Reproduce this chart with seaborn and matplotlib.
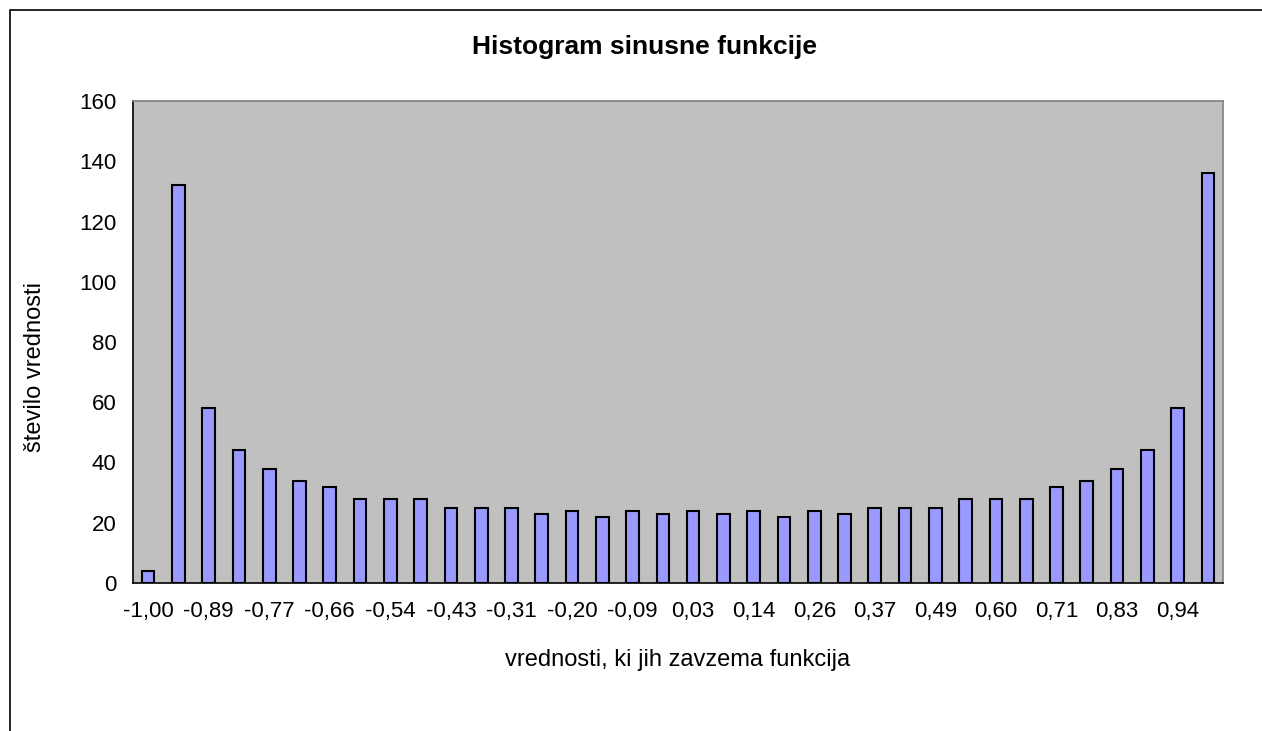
import seaborn as sns
import pandas as pd
import matplotlib.pyplot as plt
from matplotlib.patches import Rectangle

# vrednosti (razredi) in število vrednosti v vsakem razredu
razredi = ['-1,00', '-0,94', '-0,89', '-0,83', '-0,77', '-0,71', '-0,66', '-0,60',
           '-0,54', '-0,49', '-0,43', '-0,37', '-0,31', '-0,26', '-0,20', '-0,14',
           '-0,09', '-0,03', '0,03', '0,09', '0,14', '0,20', '0,26', '0,31',
           '0,37', '0,43', '0,49', '0,54', '0,60', '0,66', '0,71', '0,77',
           '0,83', '0,89', '0,94', '1,00']
stevilo = [4, 132, 58, 44, 38, 34, 32, 28, 28, 28, 25, 25, 25, 23, 24, 22,
           24, 23, 24, 23, 24, 22, 24, 23, 25, 25, 25, 28, 28, 28, 32, 34,
           38, 44, 58, 136]

data = pd.DataFrame({'razred': razredi, 'stevilo': stevilo})

sns.set_style('white')
plt.rcParams['font.family'] = ['Liberation Sans', 'DejaVu Sans']
plt.rcParams['text.color'] = 'black'
plt.rcParams['xtick.color'] = 'black'
plt.rcParams['ytick.color'] = 'black'

W, H = 1262, 731
fig = plt.figure(figsize=(W / 100, H / 100), dpi=100)
ax = fig.add_axes([133 / W, 1 - 583 / H, (1223 - 133) / W, (583 - 101) / H])

sns.barplot(data=data, x='razred', y='stevilo', order=razredi, color='#9999FF',
            saturation=1, width=0.42, edgecolor='black', linewidth=1.5, ax=ax)

ax.set_facecolor('#C0C0C0')
ax.set_xlim(-0.5, len(razredi) - 0.5)
ax.set_ylim(0, 160)
ax.set_yticks(range(0, 161, 20))
ax.set_xticks(range(0, len(razredi), 2))
ax.set_xticklabels(razredi[::2])
ax.set_xticks([i - 0.5 for i in range(len(razredi) + 1)], minor=True)
ax.tick_params(axis='x', which='major', length=0, labelsize=16, pad=13)
ax.tick_params(axis='x', which='minor', length=6, width=1, color='black', direction='out')
ax.tick_params(axis='y', length=6, width=1, color='black', direction='out', labelsize=16, pad=6)
ax.set_xlabel('')
ax.set_ylabel('')

for s in ['left', 'bottom']:
    ax.spines[s].set_color('black')
    ax.spines[s].set_linewidth(1.2)
for s in ['top', 'right']:
    ax.spines[s].set_color('#808080')
    ax.spines[s].set_linewidth(1.2)

fig.text(645 / W, 1 - 47 / H, 'Histogram sinusne funkcije', ha='center', va='center',
         fontsize=19, fontweight='bold')
fig.text(678 / W, 1 - 660 / H, 'vrednosti, ki jih zavzema funkcija', ha='center', va='center',
         fontsize=17)
fig.text(35 / W, 1 - 367 / H, 'število vrednosti', ha='center', va='center',
         fontsize=17, rotation=90)

# okvir grafikona
fig.patches.append(Rectangle((10 / W, -0.1), 1.2, 1 - 10 / H + 0.1, transform=fig.transFigure,
                             fill=False, edgecolor='black', linewidth=1.2))

fig.savefig('out.png', dpi=100)
